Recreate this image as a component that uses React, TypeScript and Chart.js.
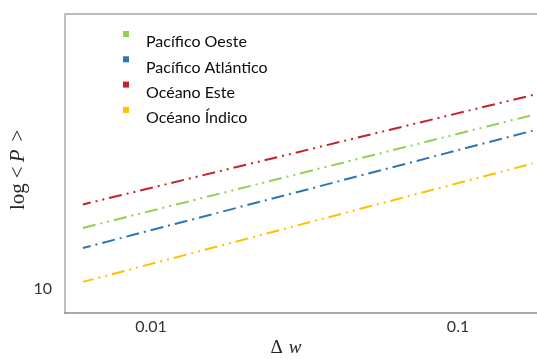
import { useEffect, useRef } from 'react';
import { Chart, registerables } from 'chart.js';

Chart.register(...registerables);

const W = 537;
const H = 359;

// Data
const wValues = [0.006, 0.175];
const seriesLabels = ['Pacífico Oeste', 'Pacífico Atlántico', 'Océano Este', 'Océano Índico'];
const pacificoOeste = [15.97, 38.0];
const pacificoAtlantico = [13.7, 33.7];
const oceanoEste = [19.13, 44.3];
const oceanoIndico = [10.56, 26.2];
const xTicks = [0.01, 0.1];
const yTicks = [10];
const xMin = 0.005247;
const xMax = 0.1808;
const yMin = 8.318;
const yMax = 82.5;

const seriesValues = [pacificoOeste, pacificoAtlantico, oceanoEste, oceanoIndico];
const seriesColors = ['#92d050', '#2e75b6', '#c4222a', '#ffc000'];
const seriesDashes = [
  [13, 5, 2, 5, 2, 5],
  [13, 5, 2, 5],
  [13, 5, 2, 5, 2, 5],
  [13, 5, 2, 5, 2, 5],
];
const seriesDashOffsets = [0, 5, 5, 2];

const TEXT_FONT = 'Lato';
const SERIF = '"Liberation Serif", "DejaVu Serif", serif';

export default function App() {
  const ref = useRef<HTMLCanvasElement>(null);

  useEffect(() => {
    const canvas = ref.current;
    if (!canvas) return;

    const decorPlugin = {
      id: 'decor',
      afterDraw(chart: any) {
        const ctx = chart.ctx as CanvasRenderingContext2D;
        const a = chart.chartArea;
        ctx.save();
        // frame
        ctx.lineCap = 'butt';
        ctx.strokeStyle = '#a6a6a6';
        ctx.lineWidth = 1.5;
        ctx.beginPath();
        ctx.moveTo(a.left, a.top);
        ctx.lineTo(a.right, a.top);
        ctx.stroke();
        ctx.strokeStyle = '#bfbfbf';
        ctx.lineWidth = 2;
        ctx.beginPath();
        ctx.moveTo(a.left, a.top - 0.75);
        ctx.lineTo(a.left, a.bottom);
        ctx.stroke();
        ctx.strokeStyle = '#8c8c8c';
        ctx.lineWidth = 1.5;
        ctx.beginPath();
        ctx.moveTo(a.left - 1, a.bottom);
        ctx.lineTo(a.right, a.bottom);
        ctx.stroke();

        // legend
        const ds = chart.data.datasets;
        ctx.font = `16px ${TEXT_FONT}`;
        ctx.textAlign = 'left';
        ctx.textBaseline = 'alphabetic';
        ds.forEach((d: any, i: number) => {
          const cy = 34 + i * 25.3;
          ctx.fillStyle = d.borderColor;
          ctx.fillRect(123, cy - 3, 6, 6);
          ctx.fillStyle = '#0d0d0d';
          ctx.fillText(d.label, 146, cy + 13.3);
        });

        // x title: Δ w
        ctx.fillStyle = '#262626';
        ctx.textBaseline = 'alphabetic';
        ctx.font = `19px ${SERIF}`;
        const delta = 'Δ';
        const dW = ctx.measureText(delta).width;
        ctx.font = `italic 19px ${SERIF}`;
        const wW = ctx.measureText('w').width;
        const gap = 6;
        const total = dW + gap + wW;
        const cx = (a.left + a.right) / 2 - 15;
        const x0 = cx - total / 2;
        ctx.font = `19px ${SERIF}`;
        ctx.fillText(delta, x0, 353);
        ctx.font = `italic 19px ${SERIF}`;
        ctx.fillText('w', x0 + dW + gap, 353);

        // y title: log < P >
        ctx.save();
        ctx.translate(23.5, 210);
        ctx.rotate(-Math.PI / 2);
        let px = 0;
        ctx.font = `21px ${SERIF}`;
        ctx.fillText('log', px, 0);
        px += ctx.measureText('log').width + 5;
        ctx.fillText('<', px, 0);
        px += ctx.measureText('<').width + 4;
        ctx.font = `italic 21px ${SERIF}`;
        ctx.fillText('P', px, 0);
        px += ctx.measureText('P').width + 8;
        ctx.font = `21px ${SERIF}`;
        ctx.fillText('>', px, 0);
        ctx.restore();

        ctx.restore();
      },
    };

    const chart = new Chart(canvas, {
      type: 'scatter',
      data: {
        datasets: seriesLabels.map((label, i) => ({
          label,
          data: wValues.map((x, j) => ({ x, y: seriesValues[i][j] })),
          showLine: true,
          borderColor: seriesColors[i],
          backgroundColor: seriesColors[i],
          borderWidth: 2,
          borderDash: seriesDashes[i],
          borderDashOffset: seriesDashOffsets[i],
          borderCapStyle: 'butt',
          pointRadius: 0,
          pointHoverRadius: 0,
          tension: 0,
        })),
      },
      options: {
        responsive: false,
        animation: false,
        devicePixelRatio: 1,
        layout: { padding: { top: 14, right: 0, left: 0, bottom: 0 } },
        plugins: {
          legend: { display: false },
          tooltip: { enabled: false },
          title: { display: false },
        },
        scales: {
          x: {
            type: 'logarithmic',
            min: xMin,
            max: xMax,
            grid: { display: false, drawTicks: false },
            border: { display: false },
            ticks: {
              autoSkip: false,
              maxRotation: 0,
              padding: 4,
              color: '#333333',
              font: { family: TEXT_FONT, size: 16 },
              callback: (v: any) => String(v),
            },
            afterBuildTicks: (s: any) => {
              s.ticks = xTicks.map((v) => ({ value: v }));
            },
            afterFit: (s: any) => {
              s.height = 46;
              s.paddingLeft = 0;
              s.paddingRight = 0;
            },
          },
          y: {
            type: 'logarithmic',
            min: yMin,
            max: yMax,
            grid: { display: false, drawTicks: false },
            border: { display: false },
            ticks: {
              autoSkip: false,
              padding: 13,
              color: '#333333',
              font: { family: TEXT_FONT, size: 16 },
              callback: (v: any) => String(v),
            },
            afterBuildTicks: (s: any) => {
              s.ticks = yTicks.map((v) => ({ value: v }));
            },
            afterFit: (s: any) => {
              s.width = 65;
              s.paddingTop = 0;
              s.paddingBottom = 0;
            },
          },
        },
      } as any,
      plugins: [decorPlugin],
    });

    return () => chart.destroy();
  }, []);

  return (
    <div style={{ position: 'fixed', left: 0, top: 0, width: W, height: H, background: '#ffffff' }}>
      <canvas ref={ref} width={W} height={H} style={{ display: 'block', width: W, height: H }} />
    </div>
  );
}
